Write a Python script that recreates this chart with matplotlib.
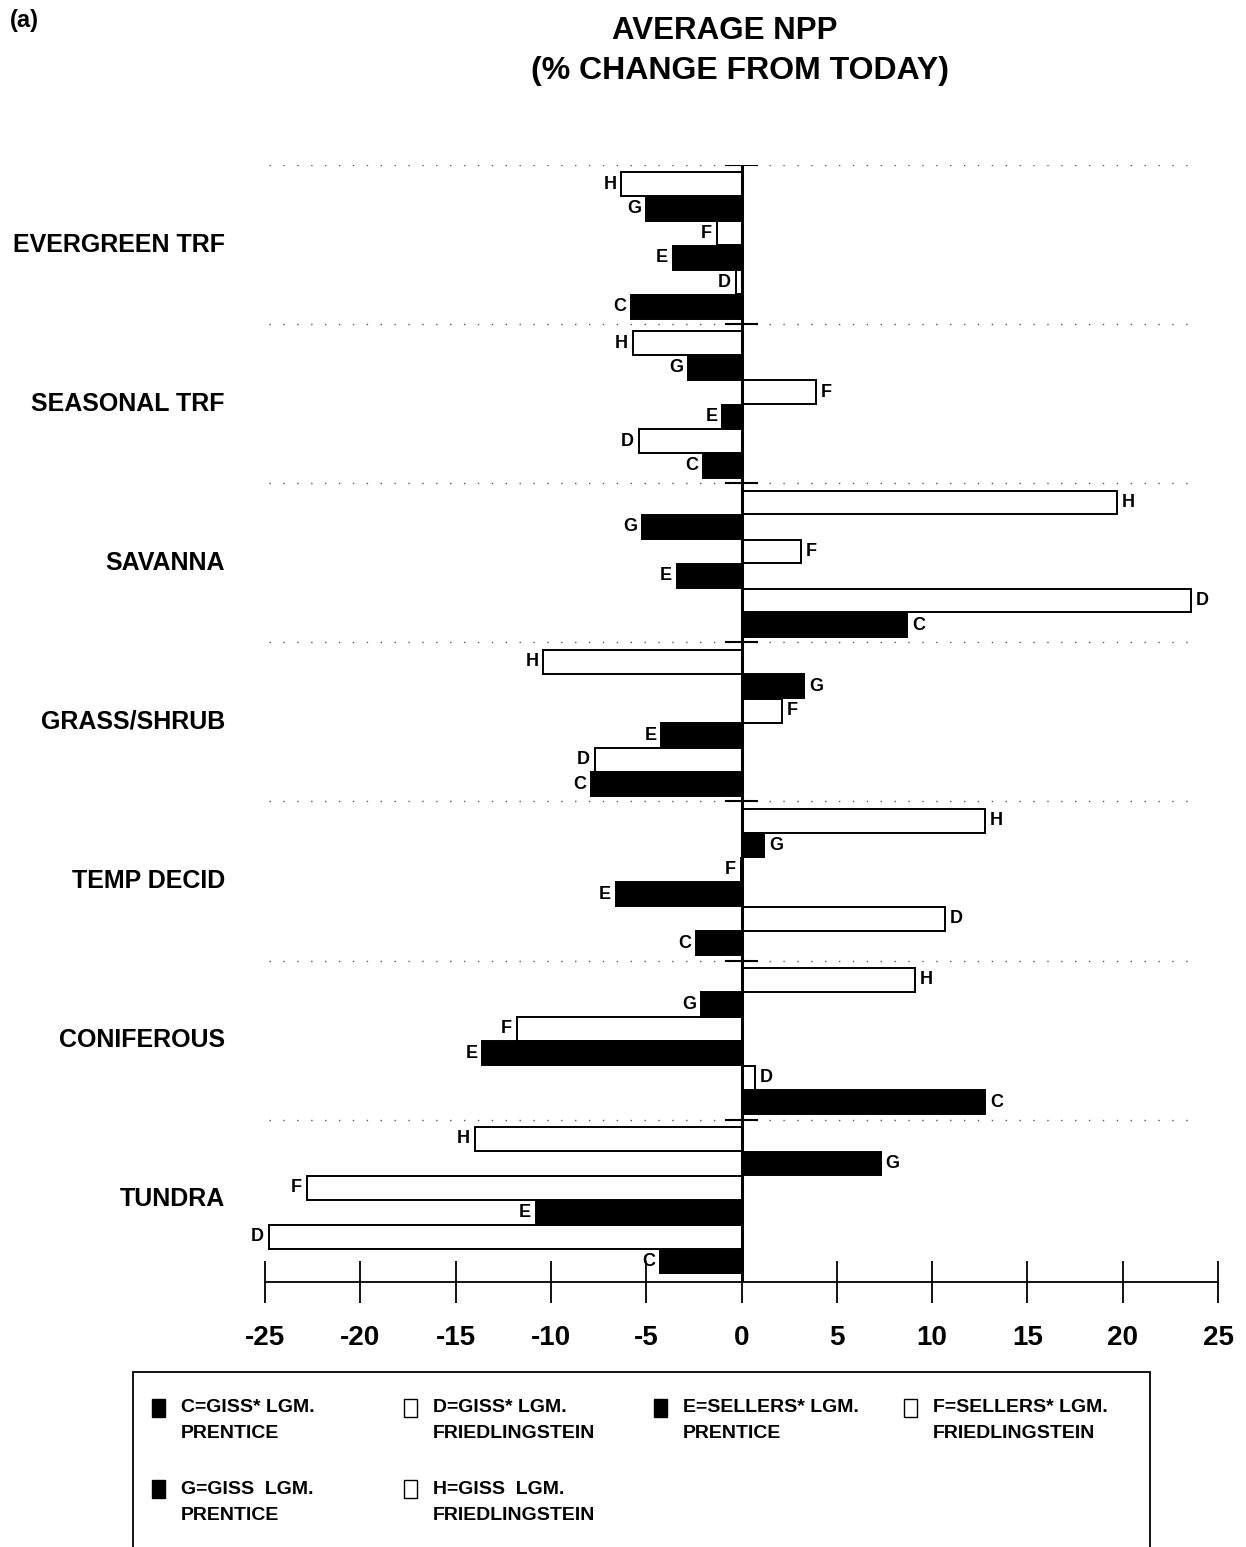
import matplotlib
matplotlib.use("Agg")
import matplotlib.pyplot as plt
from matplotlib.patches import Rectangle

# ------------------------------------------------------------------
# data (% change in NPP vs. today), categories top -> bottom
# ------------------------------------------------------------------
categories = ["EVERGREEN TRF", "SEASONAL TRF", "SAVANNA", "GRASS/SHRUB",
              "TEMP DECID", "CONIFEROUS", "TUNDRA"]

series_keys = ["H", "G", "F", "E", "D", "C"]   # order of bars in each group, top -> bottom

vals_C = [-5.8, -2.0, 8.7, -7.9, -2.4, 12.8, -4.3]
vals_D = [-0.3, -5.4, 23.6, -7.7, 10.7, 0.7, -24.8]
vals_E = [-3.6, -1.0, -3.4, -4.2, -6.6, -13.6, -10.8]
vals_F = [-1.3, 3.9, 3.1, 2.1, -0.05, -11.8, -22.8]
vals_G = [-5.0, -2.8, -5.2, 3.3, 1.2, -2.1, 7.3]
vals_H = [-6.3, -5.7, 19.7, -10.4, 12.8, 9.1, -14.0]

series_vals = {"C": vals_C, "D": vals_D, "E": vals_E,
               "F": vals_F, "G": vals_G, "H": vals_H}
series_black = {"C": True, "D": False, "E": True, "F": False, "G": True, "H": False}

legend_labels = [
    ("C", "C=GISS* LGM.\nPRENTICE"),
    ("D", "D=GISS* LGM.\nFRIEDLINGSTEIN"),
    ("E", "E=SELLERS* LGM.\nPRENTICE"),
    ("F", "F=SELLERS* LGM.\nFRIEDLINGSTEIN"),
    ("G", "G=GISS  LGM.\nPRENTICE"),
    ("H", "H=GISS  LGM.\nFRIEDLINGSTEIN"),
]

xticks = [-25, -20, -15, -10, -5, 0, 5, 10, 15, 20, 25]

# ------------------------------------------------------------------
BOLD = ["Liberation Sans", "DejaVu Sans"]

W, H = 1246, 1547
fig = plt.figure(figsize=(W / 100, H / 100), dpi=100)
ax = fig.add_axes([265 / W, 1 - 1282 / H, (1218 - 265) / W, (1282 - 165) / H])

n_groups = len(categories)
ax.set_xlim(-25, 25)
ax.set_ylim(n_groups + 0.02, 0)

pitch = 0.154
first = 0.121
height = 0.15

for gi in range(n_groups):
    for bj, key in enumerate(series_keys):
        v = series_vals[key][gi]
        y = gi + first + bj * pitch
        fc = "black" if series_black[key] else "white"
        ax.barh(y, v, height=height, color=fc, edgecolor="black", linewidth=1.4, zorder=3)
        if v >= 0:
            ax.text(v + 0.25, y, key, ha="left", va="center", fontsize=13,
                    fontweight="bold", family=BOLD, zorder=4)
        else:
            ax.text(v - 0.25, y, key, ha="right", va="center", fontsize=13,
                    fontweight="bold", family=BOLD, zorder=4)

# group separators (dotted) with a short solid piece at zero
for gi in range(n_groups):
    ax.plot([-24.8, 23.5], [gi, gi], color="#555555", lw=1.0,
            linestyle=(0, (1, 9)), zorder=1)
    ax.plot([-0.8, 0.8], [gi, gi], color="black", lw=1.5, zorder=2)

# zero line
ax.axvline(0, color="black", lw=2.2, zorder=5)

# category labels
for gi, name in enumerate(categories):
    ax.text(-27.1, gi + 0.5, name, ha="right", va="center", fontsize=18,
            fontweight="bold", family=BOLD)

# axes decoration: only bottom spine with crossing ticks
for s in ["top", "left", "right"]:
    ax.spines[s].set_visible(False)
ax.spines["bottom"].set_linewidth(1.3)
ax.set_yticks([])
ax.set_xticks(xticks)
ax.set_xticklabels([str(t) for t in xticks], fontsize=20, fontweight="bold", family=BOLD)
ax.tick_params(axis="x", direction="inout", length=30, width=1.3, pad=16)

# titles
fig.text(725 / W, 1 - 31 / H, "AVERAGE NPP", ha="center", va="center",
         fontsize=22.5, fontweight="bold", family=BOLD)
fig.text(740 / W, 1 - 71 / H, "(% CHANGE FROM TODAY)", ha="center", va="center",
         fontsize=23, fontweight="bold", family=BOLD)
fig.text(10 / W, 1 - 20 / H, "(a)", ha="left", va="center",
         fontsize=17, fontweight="bold", family=BOLD)

# legend box
fig.patches.append(Rectangle((133 / W, -0.05), (1150 - 133) / W, 1 - 1372 / H + 0.05,
                             transform=fig.transFigure, fill=False,
                             edgecolor="black", linewidth=1.3))

col_x = [158, 410, 660, 910]
row_y = [1408, 1489]
for idx, (key, label) in enumerate(legend_labels):
    r, c = divmod(idx, 4)
    mx, my = col_x[c], row_y[r]
    fc = "black" if series_black[key] else "white"
    fig.patches.append(Rectangle(((mx - 6) / W, 1 - (my + 9) / H), 13 / W, 18 / H,
                                 transform=fig.transFigure, facecolor=fc,
                                 edgecolor="black", linewidth=1.0))
    line1, line2 = label.split("\n")
    fig.text((mx + 23) / W, 1 - my / H, line1, ha="left", va="center",
             fontsize=14, fontweight="bold", family=BOLD)
    fig.text((mx + 23) / W, 1 - (my + 26) / H, line2, ha="left", va="center",
             fontsize=14, fontweight="bold", family=BOLD)

fig.savefig("out.png", dpi=100)
